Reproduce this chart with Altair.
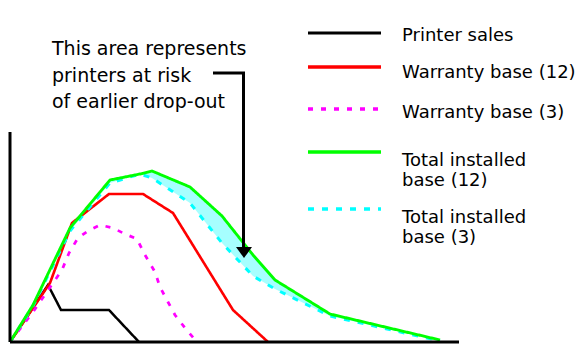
import altair as alt
import pandas as pd

SERIES = ["Printer sales", "Warranty base (12)", "Warranty base (3)",
          "Total installed base (12)", "Total installed base (3)"]
LEGEND_LABELS = [["Printer sales"], ["Warranty base (12)"], ["Warranty base (3)"],
                 ["Total installed", "base (12)"], ["Total installed", "base (3)"]]
COLORS = ["#000000", "#FF0000", "#FF00FF", "#00FF00", "#00FFFF"]
DASHES = [[1, 0], [1, 0], [5, 8], [1, 0], [6, 8]]
WIDTHS = [2.5, 3, 3, 3, 3]

# series values (x = time index, y = printers)
sales_x = [0, 38, 51, 99, 129]
sales_y = [0, 57, 32, 32, 0]
w12_x = [0, 40, 62, 99, 133, 163, 223, 258]
w12_y = [0, 59, 119, 148, 148, 129, 32, 0]
w3_x = [0, 23, 43, 52, 59, 68, 78, 90, 103, 115, 127, 135, 145, 150, 158, 165, 175, 187]
w3_y = [0, 30, 59, 72, 89, 104, 111, 117, 114, 108, 103, 87, 70, 55, 40, 27, 14, 0]
total_x = [0, 23, 60, 100, 130, 142, 180, 212, 243, 265, 320, 430]
t12_y = [0, 37, 114, 162, 168, 171, 155, 126, 87, 62, 28, 2]
t3_y = [0, 36, 111, 159, 168, 164, 139, 99, 66, 53, 26, 1]

X_AXIS_END = 449
Y_AXIS_TOP = 210

ANNOT_LINES = ["This area represents", "printers at risk", "of earlier drop-out"]

# legend layout (pixels)
LEG_LINE_Y = [33, 67, 109, 152, 209]
LEG_TEXT_Y = [41, 78, 118, 166, 223]

FONT = "DejaVu Sans"

# build tables
frames = [
    pd.DataFrame({"series": SERIES[0], "x": sales_x, "y": sales_y}),
    pd.DataFrame({"series": SERIES[1], "x": w12_x, "y": w12_y}),
    pd.DataFrame({"series": SERIES[2], "x": w3_x, "y": w3_y}),
    pd.DataFrame({"series": SERIES[4], "x": total_x, "y": t3_y}),
    pd.DataFrame({"series": SERIES[3], "x": total_x, "y": t12_y}),
]
long_df = pd.concat(frames, ignore_index=True)
band_df = pd.DataFrame({"x": total_x, "t12": t12_y, "t3": t3_y})

xs = alt.Scale(domain=[-10, 576], nice=False, zero=False)
ys = alt.Scale(domain=[-10, 342], nice=False, zero=False)

band = alt.Chart(band_df).mark_area(fill="#00FFFF", opacity=0.35).encode(
    x=alt.X("x:Q", scale=xs, axis=None),
    y=alt.Y("t12:Q", scale=ys, axis=None),
    y2="t3:Q",
)

lines = alt.Chart(long_df).mark_line().encode(
    x=alt.X("x:Q", scale=xs, axis=None),
    y=alt.Y("y:Q", scale=ys, axis=None),
    color=alt.Color("series:N", scale=alt.Scale(domain=SERIES, range=COLORS), legend=None),
    strokeDash=alt.StrokeDash("series:N", scale=alt.Scale(domain=SERIES, range=DASHES), legend=None),
    strokeWidth=alt.StrokeWidth("series:N", scale=alt.Scale(domain=SERIES, range=WIDTHS), legend=None),
)

xaxis = alt.Chart(pd.DataFrame({"x": [0], "x2": [X_AXIS_END], "y": [0]})).mark_rule(
    color="black", strokeWidth=3).encode(
    x=alt.X("x:Q", scale=xs, axis=None), x2="x2:Q", y=alt.Y("y:Q", scale=ys, axis=None))
yaxis = alt.Chart(pd.DataFrame({"x": [0], "y": [0], "y2": [Y_AXIS_TOP]})).mark_rule(
    color="black", strokeWidth=3).encode(
    x=alt.X("x:Q", scale=xs, axis=None), y=alt.Y("y:Q", scale=ys, axis=None), y2="y2:Q")

one = pd.DataFrame({"a": [0]})
annot = alt.Chart(one).mark_text(
    text=ANNOT_LINES, font=FONT, fontSize=19, lineHeight=26.5, align="left",
    baseline="alphabetic", color="black").encode(x=alt.value(52), y=alt.value(55))
arrow_h = alt.Chart(one).mark_rule(color="black", strokeWidth=3).encode(
    x=alt.value(213), x2=alt.value(245), y=alt.value(73))
arrow_v = alt.Chart(one).mark_rule(color="black", strokeWidth=3).encode(
    x=alt.value(243.5), y=alt.value(72), y2=alt.value(249))
arrow_head = alt.Chart(one).mark_point(
    shape="M-1,-0.7L1,-0.7L0,0.7Z", size=256, filled=True, color="black", opacity=1,
    strokeWidth=0).encode(x=alt.value(244), y=alt.value(252.5))

legend_layers = []
for i in range(len(SERIES)):
    legend_layers.append(
        alt.Chart(one).mark_rule(color=COLORS[i], strokeWidth=WIDTHS[i] + 0.5,
                                 strokeDash=DASHES[i]).encode(
            x=alt.value(308), x2=alt.value(381), y=alt.value(LEG_LINE_Y[i])))
    legend_layers.append(
        alt.Chart(one).mark_text(text=LEGEND_LABELS[i], font=FONT, fontSize=18,
                                 lineHeight=19.5, align="left", baseline="alphabetic",
                                 color="black").encode(
            x=alt.value(402), y=alt.value(LEG_TEXT_Y[i])))

chart = alt.layer(band, lines, xaxis, yaxis, annot, arrow_h, arrow_v, arrow_head,
                  *legend_layers).properties(
    width=586, height=352, autosize=alt.AutoSizeParams(type="none"), padding=0,
    background="white",
).configure_view(stroke=None)

chart.save("out.html", embed_options={"renderer": "svg", "actions": False})
